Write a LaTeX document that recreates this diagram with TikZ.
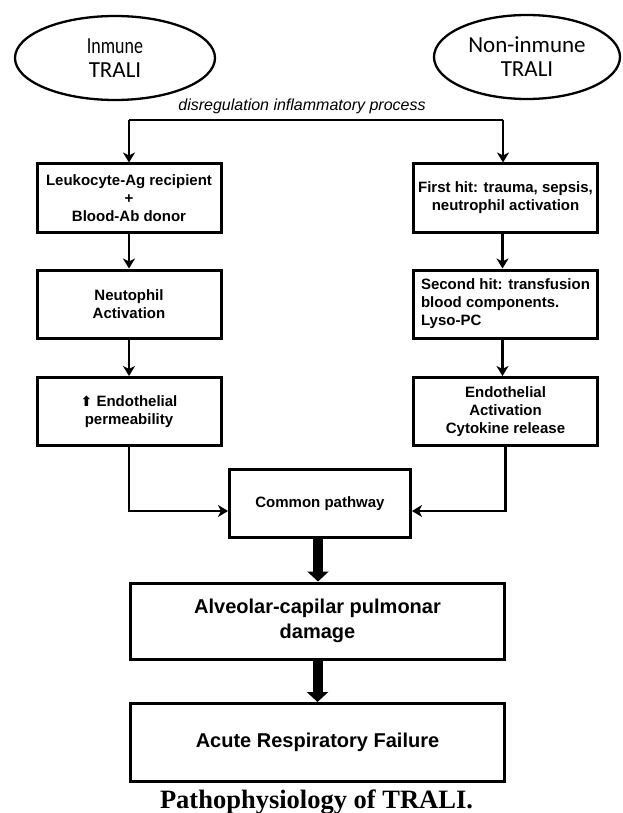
\documentclass[tikz,border=0pt]{standalone}
\usepackage{fontspec}
\setmainfont{Liberation Sans}
\newfontfamily\calibfont{Carlito}
\newfontfamily\timesfont{Liberation Serif}
\newfontfamily\dejavufont{DejaVu Sans}
\usetikzlibrary{arrows.meta,shapes.geometric}
\begin{document}
\begin{tikzpicture}[x=1pt,y=-1pt,
  box/.style={draw, line width=3pt, minimum width=184pt, minimum height=68pt,
    align=center, inner sep=2pt, font=\bfseries\fontsize{15}{18}\selectfont},
  bigbox/.style={draw, line width=3pt, minimum width=374pt, minimum height=76pt,
    align=center, inner sep=2pt, font=\bfseries\fontsize{20}{25}\selectfont},
  oval/.style={draw, ellipse, line width=2.3pt, minimum width=200pt, minimum height=84pt,
    inner sep=0pt, align=center, font=\calibfont\fontsize{23}{24}\selectfont},
  arr/.style={line width=2.8pt, -{Stealth[width=12pt,length=10pt,inset=3pt]}},
  plain/.style={line width=2.8pt},
  fat/.style={line width=10pt, -{Triangle[width=21pt,length=10pt]}}
]
\path[use as bounding box, fill=white] (0,0) rectangle (622,813);

% ellipses
\node[oval] (imm) at (115,58) {\scalebox{0.78}[1]{Inmune}\\TRALI};
\node[oval, minimum width=186pt] (nimm) at (527,57) {Non-inmune\\TRALI};

% label and top connector
\node[font=\itshape\fontsize{16}{18}\selectfont] (lab) at (302,106) {disregulation inflammatory process};
\coordinate (tl) at (129,120);
\coordinate (tr) at (503,120);

% left column
\node[box] (l1) at (129,198) {Leukocyte-Ag recipient\\+\\Blood-Ab donor};
\node[box] (l2) at (129,304) {Neutophil\\Activation};
\node[box] (l3) at (129,411.5) {{\dejavufont\bfseries\fontsize{14}{14}\selectfont ⬆} Endothelial\\permeability};

% right column
\node[box] (r1) at (505.5,198) {First hit: trauma, sepsis,\\neutrophil activation};
\node[box, align=left] (r2) at (505.5,304) {Second hit: transfusion\\blood components.\\Lyso-PC};
\node[box] (r3) at (505.5,411.5) {Endothelial\\Activation\\Cytokine release};

% common and results
\node[box, minimum width=181pt] (com) at (320,503.5) {Common pathway};
\node[bigbox] (alv) at (317.5,621) {Alveolar-capilar pulmonar\\damage};
\node[bigbox, minimum height=78pt] (arf) at (317.5,742.5) {Acute Respiratory Failure};

% caption
\node[font=\timesfont\bfseries\fontsize{26.5}{28}\selectfont, anchor=base] (cap) at (316.5,808) {Pathophysiology of TRALI.};

% connectors
\draw[plain] (tl) -- (tr);
\draw[arr] (tl) -- (l1.north);
\draw[arr] (tr) -- (tr |- r1.north);
\draw[arr] (l1) -- (l2);
\draw[arr] (l2) -- (l3);
\draw[arr] ([xshift=-3pt]r1.south) -- ([xshift=-3pt]r2.north);
\draw[arr] ([xshift=-3pt]r2.south) -- ([xshift=-3pt]r3.north);
\draw[arr] (l3.south) |- ([yshift=-7.5pt]com.west);
\draw[arr] (r3.south) |- ([yshift=-7.5pt]com.east);
\draw[fat] ([xshift=-2pt]com.south) -- ([xshift=-2pt]com.south |- alv.north);
\draw[fat] (alv.south) -- (arf.north);
\end{tikzpicture}
\end{document}
